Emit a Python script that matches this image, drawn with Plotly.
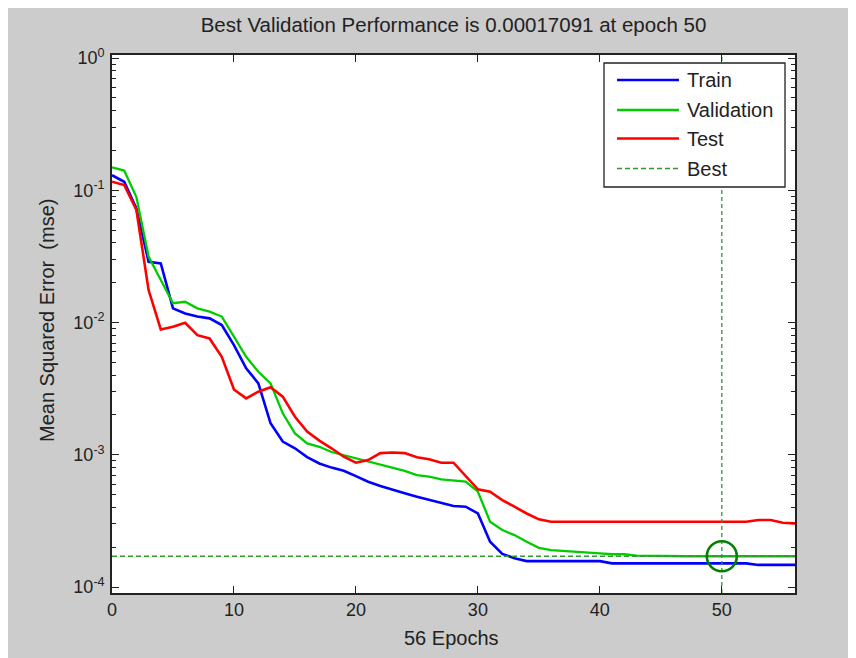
import plotly.graph_objects as go

# ---------------- data ----------------
epochs = list(range(0, 57))

train = [0.130, 0.116, 0.073, 0.0288, 0.028, 0.0128, 0.0117, 0.0111, 0.01076, 0.00958,
         0.00676, 0.00451, 0.00347, 0.00173, 0.00126, 0.00112, 0.00096, 0.00086, 0.00080, 0.000757,
         0.00069, 0.000625, 0.00058, 0.000541, 0.000511, 0.000482, 0.000455, 0.000434, 0.00041, 0.000405,
         0.00036, 0.00022, 0.000178, 0.000165, 0.000157, 0.000157, 0.000157, 0.000157, 0.000157, 0.000157,
         0.000157, 0.000151, 0.000151, 0.000151, 0.000151, 0.000151, 0.000151, 0.000151, 0.000151, 0.000151,
         0.000151, 0.000151, 0.000151, 0.000147, 0.000147, 0.000147, 0.000147]

validation = [0.149, 0.141, 0.089, 0.0315, 0.021, 0.014, 0.01435, 0.0128, 0.0121, 0.0111,
              0.00782, 0.00551, 0.00424, 0.00347, 0.00206, 0.00145, 0.00122, 0.00115, 0.00105, 0.000995,
              0.00094, 0.000886, 0.000836, 0.000798, 0.000757, 0.000703, 0.000683, 0.000652, 0.000637, 0.000626,
              0.000526, 0.000312, 0.00027, 0.000247, 0.00022, 0.000198, 0.00019, 0.000188, 0.000185, 0.000182,
              0.00018, 0.000177, 0.000177, 0.000173, 0.000172, 0.000172, 0.000172, 0.000171, 0.000171, 0.000171,
              0.00017091, 0.000171, 0.000171, 0.000171, 0.000171, 0.000171, 0.000171]

test = [0.116, 0.1096, 0.071, 0.0176, 0.00887, 0.0093, 0.00996, 0.00803, 0.00758, 0.00551,
        0.00312, 0.00267, 0.0030, 0.00324, 0.00275, 0.00194, 0.0015, 0.00128, 0.00112, 0.000967,
        0.000871, 0.000912, 0.00103, 0.00104, 0.00103, 0.000957, 0.000924, 0.000871, 0.000871, 0.00069,
        0.000548, 0.000526, 0.000455, 0.000405, 0.00036, 0.000325, 0.000312, 0.000312, 0.000312, 0.000312,
        0.000312, 0.000312, 0.000312, 0.000312, 0.000312, 0.000312, 0.000312, 0.000312, 0.000312, 0.000312,
        0.000312, 0.000312, 0.000312, 0.000321, 0.000321, 0.000306, 0.000303]

best_epoch = 50
best_value = 0.00017091

x_ticks = [0, 10, 20, 30, 40, 50]
y_ticks = [1e-4, 1e-3, 1e-2, 1e-1, 1]
y_ticktext = ["10<sup>-4</sup>", "10<sup>-3</sup>", "10<sup>-2</sup>", "10<sup>-1</sup>", "10<sup>0</sup>"]
y_minor = [k * 10.0 ** n for n in range(-4, 0) for k in range(2, 10)]

legend_names = ["Train", "Validation", "Test", "Best"]

# ---------------- styling ----------------
BLUE = "#0000ff"
GREEN = "#00cc00"
RED = "#ff0000"
BEST = "#2e9a2e"
CIRCLE = "#008000"
AX = "#222222"
FONT = "Liberation Sans, Arial, sans-serif"

x_range = [0, 56]
y_log_range = [-4.045, 0.023]

# the page body adds an 8px offset; plot area in window pixels is 112..795 x 55..593
OFF = 8
PL, PR, PT, PB = 112, 795, 55, 593

fig = go.Figure()
fig.add_trace(go.Scatter(x=epochs, y=train, mode="lines", line=dict(color=BLUE, width=2.6), name="Train"))
fig.add_trace(go.Scatter(x=epochs, y=validation, mode="lines", line=dict(color=GREEN, width=2.3), name="Validation"))
fig.add_trace(go.Scatter(x=epochs, y=test, mode="lines", line=dict(color=RED, width=2.6), name="Test"))
# best lines
fig.add_trace(go.Scatter(x=x_range, y=[best_value, best_value], mode="lines",
                         line=dict(color=BEST, width=1.3, dash="5px,3px"), name="Best"))
fig.add_trace(go.Scatter(x=[best_epoch, best_epoch], y=[10 ** y_log_range[0], 10 ** y_log_range[1]], mode="lines",
                         line=dict(color=BEST, width=1.3, dash="4px,3px"), showlegend=False))
fig.add_trace(go.Scatter(x=[best_epoch], y=[best_value], mode="markers",
                         marker=dict(symbol="circle-open", size=30, color=CIRCLE, line=dict(width=2.6, color=CIRCLE)),
                         showlegend=False))

W, H = 856, 658
fig.update_layout(
    width=W, height=H,
    margin=dict(l=PL - OFF, r=W - (PR - OFF), t=PT - OFF, b=H - (PB - OFF)),
    paper_bgcolor="#cccccc", plot_bgcolor="white",
    showlegend=False,
    font=dict(family=FONT, color=AX, size=18),
    title=dict(text="Best Validation Performance is 0.00017091 at epoch 50",
               x=0.5, xref="paper", xanchor="center",
               y=1 - (25 - OFF) / H, yref="container", yanchor="middle",
               font=dict(size=20.5, family=FONT, color=AX)),
)

fig.update_xaxes(range=x_range, tickvals=x_ticks, ticks="inside", ticklen=7, tickwidth=1.2, tickcolor=AX,
                 mirror="ticks", showline=True, linecolor=AX, linewidth=1.6, showgrid=False, zeroline=False,
                 tickfont=dict(size=18, family=FONT, color=AX))
fig.update_yaxes(type="log", range=y_log_range, tickvals=y_ticks, ticktext=y_ticktext,
                 ticks="inside", ticklen=7, tickwidth=1.2, tickcolor=AX,
                 minor=dict(tickvals=y_minor, ticks="inside", ticklen=4, tickwidth=1.2, tickcolor=AX),
                 mirror="ticks", showline=True, linecolor=AX, linewidth=1.6, showgrid=False, zeroline=False,
                 tickfont=dict(size=18, family=FONT, color=AX), ticklabelstandoff=2)

# window pixel -> paper coordinates
def px2x(px):
    return (px - PL) / float(PR - PL)

def py2y(py):
    return (PB - py) / float(PB - PT)

fig.add_annotation(text="56 Epochs", x=px2x(451), y=py2y(638), xref="paper", yref="paper",
                   showarrow=False, xanchor="center", yanchor="middle", font=dict(size=20, family=FONT, color=AX))
fig.add_annotation(text="Mean Squared Error \u00a0(mse)", x=px2x(47), y=py2y(321), xref="paper", yref="paper",
                   showarrow=False, xanchor="center", yanchor="middle", textangle=-90,
                   font=dict(size=20, family=FONT, color=AX))

# legend (manual box)
fig.add_shape(type="rect", xref="paper", yref="paper", x0=px2x(604), x1=px2x(785), y0=py2y(187), y1=py2y(63),
              fillcolor="white", line=dict(color=AX, width=1.3), layer="above")
legend_rows = [80, 110, 138.5, 168.5]
legend_styles = [dict(color=BLUE, width=2.6), dict(color=GREEN, width=2.6), dict(color=RED, width=2.6),
                 dict(color=BEST, width=1.3, dash="5px,3px")]
for name, py, st in zip(legend_names, legend_rows, legend_styles):
    fig.add_shape(type="line", xref="paper", yref="paper", x0=px2x(617), x1=px2x(679), y0=py2y(py), y1=py2y(py),
                  line=st, layer="above")
    fig.add_annotation(text=name, x=px2x(685), y=py2y(py), xref="paper", yref="paper", showarrow=False,
                       xanchor="left", yanchor="middle", font=dict(size=20, family=FONT, color=AX))

fig.write_html("out.html")
